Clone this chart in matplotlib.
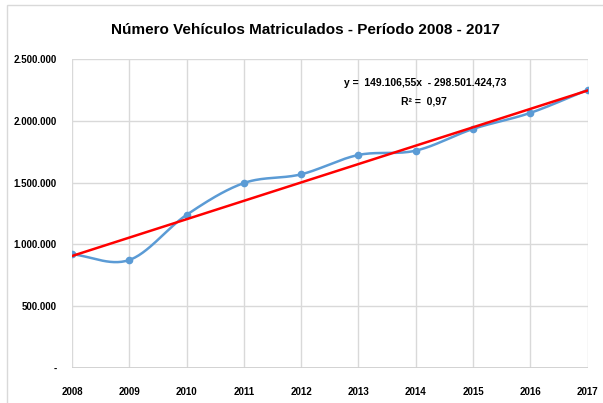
import numpy as np
import matplotlib
matplotlib.use("Agg")
import matplotlib.pyplot as plt
from matplotlib.patches import Rectangle
from matplotlib.ticker import FuncFormatter
from matplotlib import font_manager

years = [2008, 2009, 2010, 2011, 2012, 2013, 2014, 2015, 2016, 2017]
vehicles = [919000, 872000, 1238000, 1496000, 1567000, 1724000, 1759000, 1935000, 2065000, 2252000]
trend_slope = 149106.55
trend_intercept = -298501424.73
r_squared = 0.97
title = "Número Vehículos Matriculados - Período 2008 - 2017"
eq_text = "y =  149.106,55x  - 298.501.424,73"
r2_text = "R² =  0,97"

names = {f.name for f in font_manager.fontManager.ttflist}
fam = "Liberation Sans Narrow" if "Liberation Sans Narrow" in names else "Liberation Sans"
plt.rcParams['font.family'] = [fam, 'DejaVu Sans']

fig = plt.figure(figsize=(6.03, 4.03), dpi=100)
W, H = 603, 403
ax = fig.add_axes([72 / W, 1 - 367.5 / H, (587.5 - 72) / W, (367.5 - 59.3) / H])

# chart border
fig.patches.append(Rectangle((7 / W, -0.05), 1.1, 1 - 5 / H + 0.05, transform=fig.transFigure,
                             fill=False, edgecolor="#D9D9D9", linewidth=1.0))

# Catmull-Rom smoothing for the line rendering
def smooth(xs, ys, n=30):
    xs = np.asarray(xs, float); ys = np.asarray(ys, float)
    px = np.concatenate([[2 * xs[0] - xs[1]], xs, [2 * xs[-1] - xs[-2]]])
    py = np.concatenate([[2 * ys[0] - ys[1]], ys, [2 * ys[-1] - ys[-2]]])
    ox, oy = [], []
    for i in range(1, len(px) - 2):
        t = np.linspace(0, 1, n, endpoint=False)
        for p, o in ((px, ox), (py, oy)):
            p0, p1, p2, p3 = p[i - 1], p[i], p[i + 1], p[i + 2]
            o.extend(0.5 * ((2 * p1) + (-p0 + p2) * t + (2 * p0 - 5 * p1 + 4 * p2 - p3) * t ** 2
                            + (-p0 + 3 * p1 - 3 * p2 + p3) * t ** 3))
    ox.append(xs[-1]); oy.append(ys[-1])
    return np.array(ox), np.array(oy)

sx, sy = smooth(years, vehicles)
ax.plot(sx, sy, color="#5B9BD5", linewidth=1.8, zorder=3)
ax.plot(years, vehicles, linestyle="none", marker="o", markersize=4.5, color="#5B9BD5", zorder=4)

tx = np.array([years[0], years[-1]], float)
ax.plot(tx, trend_slope * tx + trend_intercept, color="#FF0000", linewidth=1.8, zorder=5)

ax.set_xlim(years[0], years[-1])
ax.set_ylim(0, 2500000)
ax.set_xticks(years)
ax.set_yticks(np.arange(0, 2500001, 500000))
ax.yaxis.set_major_formatter(FuncFormatter(lambda v, p: "-" if v == 0 else f"{int(v):,}".replace(",", ".")))
ax.grid(True, color="#D9D9D9", linewidth=1.0)
ax.set_axisbelow(True)
for s in ax.spines.values():
    s.set_visible(False)
ax.axhline(0, color="#D0D0D0", linewidth=1.3, zorder=1)
ax.tick_params(length=0, labelsize=7)
ax.tick_params(axis="x", pad=14)
ax.tick_params(axis="y", pad=11)
for lab in ax.get_xticklabels() + ax.get_yticklabels():
    lab.set_fontweight("bold")

fig.text(305 / W, 1 - 30 / H, title, ha="center", va="center", fontsize=11, fontweight="bold")
fig.text(425 / W, 1 - 83 / H, eq_text, ha="center", va="center", fontsize=7.5, fontweight="bold")
fig.text(424 / W, 1 - 101 / H, r2_text, ha="center", va="center", fontsize=7.5, fontweight="bold")

fig.savefig("out.png", dpi=100)
